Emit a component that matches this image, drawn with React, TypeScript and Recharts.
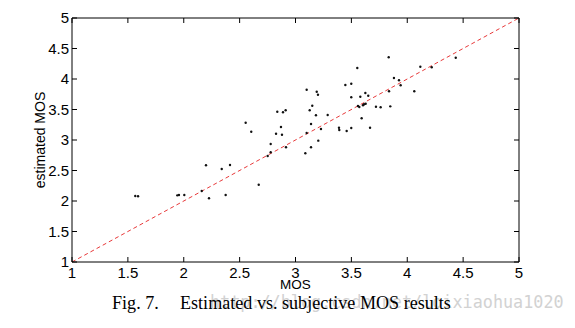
import React from "react";
import {
  ScatterChart,
  Scatter,
  XAxis,
  YAxis,
  ReferenceLine,
} from "recharts";

// subjective MOS (x) and estimated MOS (y)
const subjectiveMOS = [
  1.566, 1.591, 1.942, 1.957, 2.005, 2.199, 2.161, 2.226, 2.34, 2.414, 2.375,
  2.671, 2.778, 2.778, 2.751, 2.915, 2.554, 2.604, 2.837, 2.888, 2.912, 2.87,
  2.826, 2.879, 3.088, 3.139, 3.204, 3.834, 3.553, 4.117, 4.219, 4.434, 3.881,
  3.926, 3.941, 3.446, 3.499, 3.1, 3.19, 3.201, 3.837, 4.063, 3.499, 3.58,
  3.625, 3.651, 3.15, 3.127, 3.559, 3.571, 3.604, 3.613, 3.628, 3.72, 3.762,
  3.848, 3.183, 3.288, 3.592, 3.139, 3.389, 3.392, 3.499, 3.458, 3.667, 3.228,
  3.1,
];
const estimatedMOS = [
  2.082, 2.077, 2.093, 2.098, 2.098, 2.585, 2.164, 2.044, 2.525, 2.59, 2.098,
  2.267, 2.934, 2.798, 2.738, 2.88, 3.284, 3.136, 3.464, 3.454, 3.487, 3.213,
  3.103, 3.087, 2.782, 2.88, 2.989, 4.356, 4.18, 4.202, 4.192, 4.349, 4.016,
  3.979, 3.897, 3.902, 3.923, 3.825, 3.792, 3.743, 3.798, 3.798, 3.7, 3.71,
  3.77, 3.726, 3.562, 3.487, 3.557, 3.541, 3.569, 3.585, 3.595, 3.546, 3.536,
  3.552, 3.405, 3.41, 3.356, 3.262, 3.202, 3.164, 3.197, 3.148, 3.202, 3.18,
  3.115,
];
const axisTicks = [1, 1.5, 2, 2.5, 3, 3.5, 4, 4.5, 5];
const refLine = [
  { x: 1, y: 1 },
  { x: 5, y: 5 },
];

const points = subjectiveMOS.map((x, i) => ({ x, y: estimatedMOS[i] }));

const tickFont = {
  fontFamily: "'Liberation Sans', Arial, sans-serif",
  fontSize: 15,
  fill: "#000",
};

const captionStyle: React.CSSProperties = {
  position: "absolute",
  top: 287,
  fontFamily: "'Liberation Serif', 'Times New Roman', serif",
  fontSize: 18.1,
  whiteSpace: "pre",
  color: "#000",
  lineHeight: "17px",
};

const Dot = (props: any) => (
  <circle cx={props.cx} cy={props.cy} r={1.2} fill="#111" />
);

export default function App() {
  return (
    <div style={{ position: "relative", width: 560, height: 312 }}>
      <ScatterChart
        width={560}
        height={290}
        margin={{ top: 5, right: 39, bottom: 6, left: 0 }}
      >
        <XAxis
          xAxisId="b"
          dataKey="x"
          type="number"
          domain={[1, 5]}
          ticks={axisTicks}
          orientation="bottom"
          height={30}
          tickSize={-5}
          tickMargin={10}
          stroke="#000"
          tick={tickFont}
          allowDataOverflow
          label={{
            value: "MOS",
            position: "insideBottom",
            offset: 3,
            style: {
              fontFamily: "'Liberation Sans', Arial, sans-serif",
              fontSize: 13.5,
              fill: "#000",
            },
          }}
        />
        <XAxis
          xAxisId="t"
          dataKey="x"
          type="number"
          domain={[1, 5]}
          ticks={axisTicks}
          orientation="top"
          height={5}
          tickSize={-5}
          tickFormatter={() => ""}
          stroke="#000"
          allowDataOverflow
        />
        <YAxis
          yAxisId="l"
          dataKey="y"
          type="number"
          domain={[1, 5]}
          ticks={axisTicks}
          orientation="left"
          width={64}
          tickSize={-5}
          tickMargin={8}
          stroke="#000"
          tick={tickFont}
          allowDataOverflow
          label={{
            value: "estimated MOS",
            position: "center",
            angle: -90,
            style: {
              fontFamily: "'Liberation Sans', Arial, sans-serif",
              fontSize: 14,
              fill: "#000",
              textAnchor: "middle",
            },
          }}
        />
        <YAxis
          yAxisId="r"
          dataKey="y"
          type="number"
          domain={[1, 5]}
          ticks={axisTicks}
          orientation="right"
          width={10}
          tickSize={-5}
          tickFormatter={() => ""}
          stroke="#000"
          allowDataOverflow
        />
        <ReferenceLine
          xAxisId="b"
          yAxisId="l"
          segment={refLine}
          stroke="#e8393a"
          strokeWidth={1}
          strokeDasharray="4 3"
          ifOverflow="visible"
        />
        <Scatter
          xAxisId="b"
          yAxisId="l"
          data={points}
          shape={<Dot />}
          isAnimationActive={false}
        />
      </ScatterChart>
      <div
        style={{
          position: "absolute",
          left: 202,
          top: 285,
          fontFamily: "'DejaVu Sans Mono', monospace",
          fontSize: 16.8,
          whiteSpace: "pre",
          color: "#d2d2d2",
          lineHeight: "18px",
        }}
      >
        {"http://blog.csdn.net/loixiaohua1020"}
      </div>
      <div style={{ ...captionStyle, left: 104 }}>{"Fig. 7."}</div>
      <div style={{ ...captionStyle, left: 172 }}>
        {"Estimated vs. subjective MOS results"}
      </div>
    </div>
  );
}
